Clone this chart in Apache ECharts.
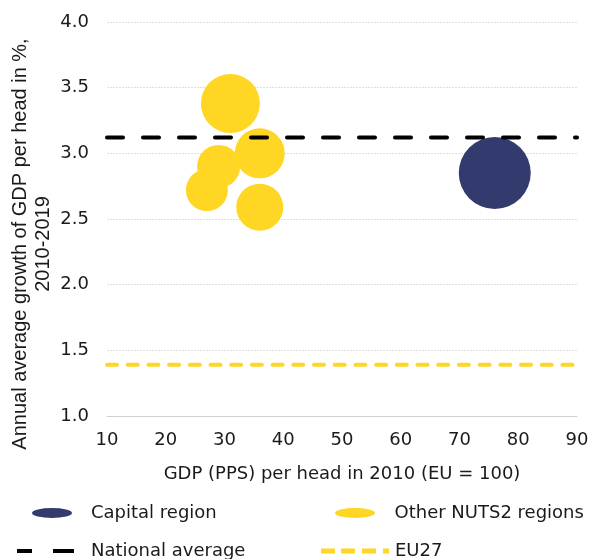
<!DOCTYPE html>
<html>
<head>
<meta charset="utf-8">
<script src="https://cdn.jsdelivr.net/npm/echarts@6/dist/echarts.min.js"></script>
<style>html,body{margin:0;padding:0;background:#fff}#c{width:592px;height:559px}</style>
</head>
<body>
<div id="c"></div>
<script>
// Data
var capitalX = [76];
var capitalY = [2.85];
var capitalSize = [72];
var otherX = [31, 36, 29, 27, 36];
var otherY = [3.38, 3.0, 2.90, 2.72, 2.59];
var otherSize = [59, 50, 43, 42, 47];
var nationalAverage = 3.12;
var eu27 = 1.39;
var xRange = [10, 90];
var yTicks = ['1.0', '1.5', '2.0', '2.5', '3.0', '3.5', '4.0'];

var FONT = '"DejaVu Sans", sans-serif';
var FONT2 = '"Liberation Sans", Arial, sans-serif';
var FS = 18;
var YELLOW = '#FFD624';
var NAVY = '#333A6E';
var TXT = '#1a1a1a';

function pts(xs, ys, ss) { return xs.map(function (x, i) { return [x, ys[i], ss[i]]; }); }

var chart = echarts.init(document.getElementById('c'), null, {renderer: 'canvas'});
var legendBase = {orient: 'horizontal', padding: 0, itemGap: 0, selectedMode: false,
  textStyle: {fontFamily: FONT, fontSize: FS, color: TXT, lineHeight: 20}};
chart.setOption({
  animation: false,
  grid: {left: 107, right: 15, top: 22, bottom: 143, containLabel: false, outerBoundsMode: 'none'},
  xAxis: {
    type: 'value', min: xRange[0], max: xRange[1], interval: 10,
    name: 'GDP (PPS) per head in 2010 (EU = 100)', nameLocation: 'middle', nameGap: 49,
    nameMoveOverlap: false,
    nameTextStyle: {fontFamily: FONT, fontSize: FS, color: TXT},
    axisLine: {show: true, lineStyle: {color: '#d0d0d0', width: 1}},
    axisTick: {show: false},
    splitLine: {show: false},
    axisLabel: {fontFamily: FONT, fontSize: FS, color: TXT, margin: 15}
  },
  yAxis: {
    type: 'value', min: 1, max: 4, interval: 0.5,
    name: 'Annual average growth of GDP per head in %,\n2010-2019', nameLocation: 'middle', nameGap: 52,
    nameMoveOverlap: false,
    nameTextStyle: {fontFamily: FONT2, fontSize: 20, color: TXT, lineHeight: 23, align: 'center',
      padding: [0, 50, 0, 0]},
    axisLine: {show: false}, axisTick: {show: false},
    splitLine: {show: true, lineStyle: {color: '#e0e0e0', type: [2, 1], width: 1}},
    axisLabel: {fontFamily: FONT, fontSize: FS, color: TXT, margin: 18,
      formatter: function (v) { return yTicks[Math.round((v - 1) / 0.5)]; }}
  },
  legend: [
    Object.assign({}, legendBase, {left: 32, top: 503, itemWidth: 40, itemHeight: 10,
      data: [{name: 'Capital region', icon: 'path://M0,5 A20,5 0 1,1 40,5 A20,5 0 1,1 0,5Z',
        itemStyle: {color: NAVY}, textStyle: {padding: [0, 0, 0, 14]}}]}),
    Object.assign({}, legendBase, {left: 335, top: 503, itemWidth: 41, itemHeight: 10,
      data: [{name: 'Other NUTS2 regions', icon: 'path://M0,5 A20,5 0 1,1 40,5 A20,5 0 1,1 0,5Z',
        itemStyle: {color: YELLOW}, textStyle: {padding: [0, 0, 0, 14]}}]}),
    Object.assign({}, legendBase, {left: 17, top: 541, itemWidth: 57, itemHeight: 5,
      data: [{name: 'National average', icon: 'path://M0,0h15v4h-15z M36,0h21v4h-21z',
        itemStyle: {color: '#000'}, textStyle: {padding: [0, 0, 0, 12]}}]}),
    Object.assign({}, legendBase, {left: 321, top: 541, itemWidth: 68, itemHeight: 5,
      data: [{name: 'EU27', icon: 'path://M0,0h14v5h-14z M20,0h14v5h-14z M41,0h14v5h-14z M62,0h6v5h-6z',
        itemStyle: {color: YELLOW}, textStyle: {padding: [0, 0, 0, 1]}}]})
  ],
  series: [
    {
      name: 'Other NUTS2 regions', type: 'scatter', z: 2,
      data: pts(otherX, otherY, otherSize),
      symbolSize: function (d) { return d[2]; },
      itemStyle: {color: YELLOW, opacity: 1}
    },
    {
      name: 'Capital region', type: 'scatter', z: 2,
      data: pts(capitalX, capitalY, capitalSize),
      symbolSize: function (d) { return d[2]; },
      itemStyle: {color: NAVY, opacity: 1}
    },
    {
      name: 'National average', type: 'line', z: 5, symbol: 'none',
      data: [[xRange[0], nationalAverage], [xRange[1], nationalAverage]],
      lineStyle: {color: '#000', width: 4, type: [16, 20], cap: 'round'}
    },
    {
      name: 'EU27', type: 'line', z: 5, symbol: 'none',
      data: [[xRange[0], eu27], [xRange[1], eu27]],
      lineStyle: {color: YELLOW, width: 4, type: [10, 10.7], cap: 'round'}
    }
  ]
});
</script>
</body>
</html>
